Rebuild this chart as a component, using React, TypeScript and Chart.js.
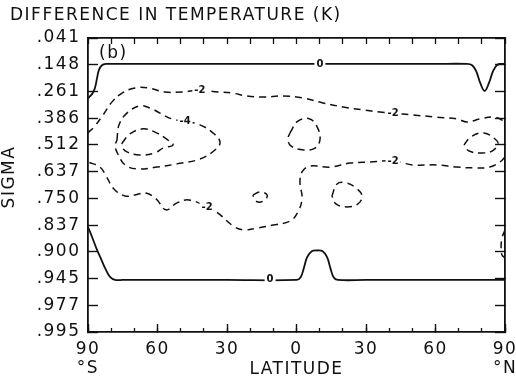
import React, { useEffect, useRef } from 'react';
import { Chart, registerables } from 'chart.js';

Chart.register(...registerables);

// ---------- data ----------
const sigmaLevels = ['.041', '.148', '.261', '.386', '.512', '.637', '.750', '.837', '.900', '.945', '.977', '.995'];
const latitudeTicks = [-90, -60, -30, 0, 30, 60, 90];
const latitudeTickLabels = ['90', '60', '30', '0', '30', '60', '90'];
const hemisphereLabels = ['°S', '°N'];
const chartTitle = 'DIFFERENCE IN TEMPERATURE (K)';
const xAxisCaption = 'LATITUDE';
const yAxisCaption = 'SIGMA';
const panelLabel = '(b)';

// contour points: [latitude, sigma level index]
const zeroUpper: number[][] = [
  [-90, 2.25], [-88.3, 2.1], [-87.0, 1.87], [-86.1, 1.5], [-85.3, 1.2], [-84.0, 1.02], [-82.2, 0.97],
  [-78, 0.97], [0, 0.97], [60, 0.97], [73.5, 0.97], [75.8, 1.02], [77.6, 1.25], [79.4, 1.7],
  [81.2, 1.98], [83.0, 1.7], [84.8, 1.25], [86.4, 1.02], [88, 0.97], [90, 0.97],
];
const zeroLower: number[][] = [
  [-90, 7.07], [-88, 7.5], [-86.1, 7.93], [-84.2, 8.3], [-82.4, 8.65], [-80.5, 8.94], [-78.3, 9.05],
  [-75, 9.05], [-30, 9.05], [0, 9.05], [1.8, 8.95], [3.2, 8.6], [4.6, 8.2], [6.6, 7.98], [8.9, 7.95],
  [11.3, 7.98], [13.2, 8.2], [14.6, 8.6], [16, 8.95], [17.8, 9.05], [30, 9.05], [90, 9.05],
];
const minus2Upper: number[][] = [
  [-90, 3.55], [-87, 3.29], [-83.5, 2.88], [-79.6, 2.39], [-75.3, 2.06], [-69.7, 1.87], [-64, 1.87],
  [-56.8, 2.02], [-49.4, 2.02], [-41.7, 1.95], [-33.9, 2.02], [-27.8, 2.06], [-21.4, 2.17],
  [-14.5, 2.21], [-5.8, 2.17], [2.8, 2.24], [11.4, 2.43], [20.1, 2.58], [28.7, 2.69], [36.0, 2.77],
  [41.7, 2.81], [50.3, 2.88], [60.6, 2.96], [69.3, 3.03], [73.6, 3.14], [79.2, 3.03], [84.8, 2.96],
  [88.7, 3.07], [90, 3.3],
];
const minus2Lower: number[][] = [
  [90, 4.45], [87.8, 4.64], [83.5, 4.83], [77.9, 4.86], [69.3, 4.83], [60.6, 4.75], [50.3, 4.75],
  [41.7, 4.6], [31.7, 4.64], [23.1, 4.68], [14.5, 4.83], [5.8, 4.79], [2.4, 5.01], [1.5, 5.42],
  [2.4, 5.99], [0.6, 6.51], [-2.8, 6.85], [-10.1, 7.0], [-17.0, 7.11], [-23.1, 7.18], [-27.4, 7.03],
  [-33.9, 6.55], [-38.6, 6.32], [-46.4, 6.06], [-51.6, 6.17], [-56.3, 6.43], [-60.6, 6.02],
  [-65.0, 5.8], [-69.7, 5.87], [-74.0, 5.91], [-78.8, 5.65], [-82.2, 5.16], [-84.8, 4.83], [-90, 4.64],
];
const minus4Loop: number[][] = [
  [-77.5, 3.82], [-76.6, 3.25], [-73.2, 2.81], [-67.6, 2.54], [-63.2, 2.62], [-58.9, 2.81],
  [-53.7, 3.03], [-48.1, 3.11], [-41.7, 3.25], [-36.5, 3.52], [-33.0, 3.89], [-35.2, 4.19],
  [-41.7, 4.53], [-51.6, 4.71], [-60.2, 4.83], [-68.8, 4.9], [-74.0, 4.75], [-77.1, 4.34],
  [-78.3, 4.04], [-77.5, 3.82],
];
const minus6Loop: number[][] = [
  [-75.3, 3.93], [-71.9, 3.59], [-66.3, 3.4], [-61.1, 3.52], [-56.8, 3.74], [-53.3, 4.0],
  [-57.6, 4.12], [-61.1, 4.3], [-67.6, 4.38], [-73.2, 4.26], [-75.3, 4.08], [-75.3, 3.93],
];
const loopEquatorUpper: number[][] = [
  [-2.8, 3.55], [0.6, 3.11], [5.8, 3.03], [9.3, 3.4], [10.1, 3.82], [8.0, 4.12], [3.2, 4.19],
  [-2.4, 4.04], [-3.7, 3.78], [-2.8, 3.55],
];
const loopNorthPolar: number[][] = [
  [72.3, 4.0], [75.3, 3.7], [80.9, 3.55], [85.7, 3.78], [87.0, 3.97], [84.4, 4.23], [80.1, 4.3],
  [74.5, 4.23], [72.3, 4.0],
];
const loopSmallSouth: number[][] = [
  [-18.8, 5.87], [-15.8, 5.76], [-12.7, 5.87], [-13.6, 6.06], [-16.6, 6.14], [-18.3, 5.99], [-18.8, 5.87],
];
const loopNorthMid: number[][] = [
  [15.3, 5.91], [17.5, 5.46], [21.4, 5.42], [25.7, 5.61], [28.3, 5.91], [26.5, 6.21], [21.8, 6.32],
  [17.0, 6.21], [15.3, 5.91],
];
const rightEdgePiece: number[][] = [
  [90, 7.18], [88.7, 7.48], [88.3, 7.86], [88.7, 8.12], [90, 8.23],
];

const contourLabels = [
  { text: '0', lat: 10.1, level: 0.97 },
  { text: '0', lat: -11.4, level: 9.05 },
  { text: '-2', lat: -41.7, level: 1.95 },
  { text: '-2', lat: 41.7, level: 2.81 },
  { text: '-2', lat: 41.7, level: 4.6 },
  { text: '-2', lat: -38.6, level: 6.32 },
  { text: '-4', lat: -48.1, level: 3.11 },
];

// ---------- styling ----------
const INK = '#111';
const FONT = '"DejaVu Sans", sans-serif';

const contours = [
  { pts: zeroUpper, dashed: false },
  { pts: zeroLower, dashed: false },
  { pts: minus2Upper, dashed: true },
  { pts: minus2Lower, dashed: true },
  { pts: minus4Loop, dashed: true },
  { pts: minus6Loop, dashed: true },
  { pts: loopEquatorUpper, dashed: true },
  { pts: loopNorthPolar, dashed: true },
  { pts: loopSmallSouth, dashed: true },
  { pts: loopNorthMid, dashed: true },
  { pts: rightEdgePiece, dashed: true },
];

const textPlugin = {
  id: 'textPlugin',
  beforeDraw(chart: any) {
    chart.ctx.letterSpacing = '1.5px';
  },
  afterDatasetsDraw(chart: any) {
    const { ctx } = chart;
    const x = chart.scales.x;
    const y = chart.scales.y;
    ctx.save();
    ctx.letterSpacing = '0px';
    ctx.font = `bold 10px ${FONT}`;
    ctx.textAlign = 'center';
    ctx.textBaseline = 'middle';
    for (const l of contourLabels) {
      const px = x.getPixelForValue(l.lat);
      const py = y.getPixelForValue(l.level);
      const w = ctx.measureText(l.text).width + 4;
      ctx.fillStyle = '#fff';
      ctx.fillRect(px - w / 2, py - 5, w, 10);
      ctx.fillStyle = INK;
      ctx.fillText(l.text, px, py);
    }
    ctx.restore();
  },
  afterDraw(chart: any) {
    const { ctx, chartArea } = chart;
    ctx.save();
    ctx.letterSpacing = '1.5px';
    ctx.font = `17px ${FONT}`;
    ctx.fillStyle = INK;
    ctx.textBaseline = 'middle';
    ctx.textAlign = 'left';
    ctx.fillText(panelLabel, chartArea.left + 11, chartArea.top + 16);
    ctx.translate(10, (chartArea.top + chartArea.bottom) / 2 - 8);
    ctx.rotate(-Math.PI / 2);
    ctx.textAlign = 'center';
    ctx.fillText(yAxisCaption, 0, 0);
    ctx.restore();
  },
};

export default function App() {
  const ref = useRef<HTMLCanvasElement | null>(null);

  useEffect(() => {
    if (!ref.current) return;
    const tickFont = { family: FONT, size: 17, lineHeight: 1.1 };
    const chart = new Chart(ref.current, {
      type: 'line',
      data: {
        datasets: contours.map((c) => ({
          data: c.pts.map(([lat, lev]) => ({ x: lat, y: lev })),
          borderColor: INK,
          borderWidth: c.dashed ? 1.5 : 1.8,
          borderDash: c.dashed ? [7, 5] : [],
          pointRadius: 0,
          tension: 0.4,
          fill: false,
          xAxisID: 'x',
          yAxisID: 'y',
        })),
      },
      options: {
        animation: false,
        responsive: false,
        devicePixelRatio: 1,
        layout: { padding: { left: 10, right: 0, top: 0, bottom: 0 } },
        events: [],
        plugins: {
          legend: { display: false },
          tooltip: { enabled: false },
          title: {
            display: true,
            text: chartTitle,
            align: 'start',
            color: INK,
            font: { family: FONT, size: 17, weight: 'normal', lineHeight: 1.1 },
            padding: { top: 6, bottom: 13.3 },
          },
        },
        scales: {
          x: {
            type: 'linear',
            position: 'bottom',
            min: -90,
            max: 90,
            ticks: {
              stepSize: 30,
              autoSkip: false,
              maxRotation: 0,
              padding: 16.6,
              color: INK,
              font: tickFont,
              callback: (v: any) => {
                const i = latitudeTicks.indexOf(Number(v));
                if (i < 0) return '';
                if (i === 0) return [latitudeTickLabels[i], hemisphereLabels[0]];
                if (i === latitudeTicks.length - 1) return [latitudeTickLabels[i], hemisphereLabels[1]];
                return latitudeTickLabels[i];
              },
            },
            grid: { drawOnChartArea: false, drawTicks: true, tickLength: -8, tickColor: INK, tickWidth: 1.4 },
            border: { display: true, color: INK, width: 1.8 },
            title: {
              display: true,
              text: xAxisCaption,
              color: INK,
              font: { family: FONT, size: 17, lineHeight: 1.1 },
              padding: { top: 0, bottom: 1.6 },
            },
            afterFit: (s: any) => {
              s.height = 49;
              s.paddingLeft = 0;
              s.paddingRight = 0;
            },
          },
          xMinor: {
            type: 'linear',
            position: 'bottom',
            weight: -1,
            min: -90,
            max: 90,
            ticks: { stepSize: 10, display: false },
            grid: { drawOnChartArea: false, drawTicks: true, tickLength: -4, tickColor: INK, tickWidth: 1.3 },
            border: { display: false },
            afterFit: (s: any) => {
              s.height = 0;
              s.paddingLeft = 0;
              s.paddingRight = 0;
            },
          },
          xTop: {
            type: 'linear',
            position: 'top',
            min: -90,
            max: 90,
            ticks: { stepSize: 10, display: false },
            grid: { drawOnChartArea: false, drawTicks: true, tickLength: -6, tickColor: INK, tickWidth: 1.3 },
            border: { display: true, color: INK, width: 1.8 },
            afterFit: (s: any) => {
              s.height = 0;
              s.paddingLeft = 0;
              s.paddingRight = 0;
            },
          },
          y: {
            type: 'linear',
            position: 'left',
            min: 0,
            max: sigmaLevels.length - 1,
            reverse: true,
            ticks: {
              stepSize: 1,
              autoSkip: false,
              padding: 17.5,
              color: INK,
              font: tickFont,
              callback: (v: any) => sigmaLevels[Number(v)] ?? '',
            },
            grid: { drawOnChartArea: false, drawTicks: true, tickLength: -10, tickColor: INK, tickWidth: 1.4 },
            border: { display: true, color: INK, width: 1.8 },
            afterFit: (s: any) => {
              s.width = 78;
              s.paddingTop = 0;
              s.paddingBottom = 0;
            },
          },
          yRight: {
            type: 'linear',
            position: 'right',
            min: 0,
            max: sigmaLevels.length - 1,
            reverse: true,
            ticks: { stepSize: 1, display: false },
            grid: { drawOnChartArea: false, drawTicks: true, tickLength: -10, tickColor: INK, tickWidth: 1.4 },
            border: { display: true, color: INK, width: 1.8 },
            afterFit: (s: any) => {
              s.width = 11;
              s.paddingTop = 0;
              s.paddingBottom = 0;
            },
          },
        },
      } as any,
      plugins: [textPlugin],
    });
    return () => chart.destroy();
  }, []);

  return (
    <div style={{ position: 'fixed', left: 0, top: 0, width: 516, height: 381, background: '#fff' }}>
      <canvas ref={ref} width={516} height={381} style={{ display: 'block', width: 516, height: 381 }} />
    </div>
  );
}
